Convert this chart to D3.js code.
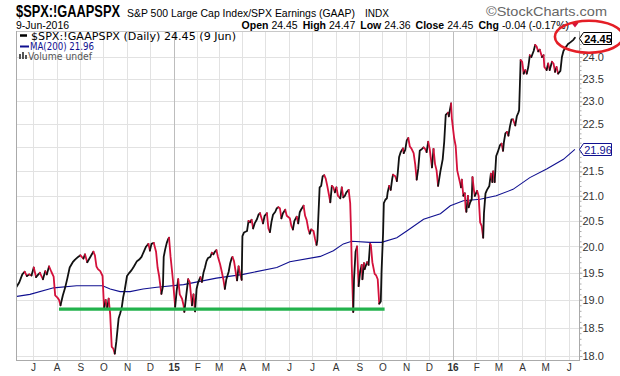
<!DOCTYPE html>
<html>
<head>
<meta charset="utf-8">
<script src="https://cdnjs.cloudflare.com/ajax/libs/d3/7.8.5/d3.min.js"></script>
<style>
  body { margin: 0; background: #fff; }
  svg { display: block; }
</style>
</head>
<body>
<div id="chart"></div>
<script>
// daily closes (turning points)
const priceSeries = [
  ["2014-06-09",19.23],["2014-06-13",19.32],["2014-06-17",19.47],["2014-06-20",19.52],["2014-06-23",19.44],["2014-06-26",19.47],["2014-06-29",19.45],
  ["2014-07-02",19.6],["2014-07-05",19.42],["2014-07-08",19.47],["2014-07-10",19.5],["2014-07-14",19.38],["2014-07-17",19.53],["2014-07-19",19.47],["2014-07-22",19.62],["2014-07-25",19.52],["2014-07-28",19.43],["2014-07-30",19.08],
  ["2014-08-02",19.04],["2014-08-04",19.0],["2014-08-06",18.9],["2014-08-09",19.08],["2014-08-12",19.22],["2014-08-15",19.4],["2014-08-18",19.6],["2014-08-22",19.7],["2014-08-25",19.75],["2014-08-29",19.8],
  ["2014-09-01",19.83],["2014-09-05",19.77],["2014-09-07",19.85],["2014-09-10",19.7],["2014-09-14",19.8],["2014-09-16",19.85],["2014-09-18",19.9],["2014-09-20",19.83],["2014-09-22",19.62],["2014-09-24",19.57],["2014-09-27",19.53],["2014-09-30",19.44],
  ["2014-10-02",18.83],["2014-10-04",19.0],["2014-10-06",18.83],["2014-10-08",19.02],["2014-10-10",18.73],["2014-10-12",18.16],["2014-10-14",18.13],["2014-10-16",18.04],["2014-10-18",18.25],["2014-10-21",18.66],["2014-10-23",18.75],["2014-10-25",18.85],["2014-10-27",19.05],["2014-10-29",19.18],
  ["2014-11-01",19.44],["2014-11-04",19.5],["2014-11-07",19.55],["2014-11-10",19.62],["2014-11-14",19.72],["2014-11-17",19.75],["2014-11-20",19.8],["2014-11-22",19.87],["2014-11-26",20.0],["2014-11-29",20.05],
  ["2014-12-01",19.92],["2014-12-03",20.05],["2014-12-06",20.07],["2014-12-09",19.9],["2014-12-11",19.6],["2014-12-13",19.44],["2014-12-16",19.11],["2014-12-18",19.25],["2014-12-19",19.8],["2014-12-21",19.95],["2014-12-23",20.07],["2014-12-25",20.15],["2014-12-26",20.17],["2014-12-28",19.8],["2014-12-31",19.38],
  ["2015-01-03",18.87],["2015-01-05",19.17],["2015-01-07",19.38],["2015-01-09",19.1],["2015-01-12",19.02],["2015-01-14",18.9],["2015-01-15",18.78],["2015-01-17",19.02],["2015-01-20",19.38],["2015-01-22",19.33],["2015-01-25",18.9],["2015-01-27",19.1],["2015-01-29",18.79],["2015-01-31",19.2],
  ["2015-02-02",19.32],["2015-02-05",19.42],["2015-02-07",19.33],["2015-02-09",19.5],["2015-02-11",19.6],["2015-02-13",19.72],["2015-02-15",19.78],["2015-02-18",19.8],["2015-02-20",19.88],["2015-02-22",19.85],["2015-02-24",19.9],["2015-02-26",19.93],["2015-02-28",19.8],
  ["2015-03-03",19.65],["2015-03-05",19.52],["2015-03-07",19.38],["2015-03-09",19.2],["2015-03-11",19.38],["2015-03-14",19.52],["2015-03-16",19.68],["2015-03-18",19.78],["2015-03-19",19.8],["2015-03-21",19.72],["2015-03-24",19.44],["2015-03-25",19.36],["2015-03-27",19.62],["2015-03-29",19.48],["2015-03-31",19.37],
  ["2015-04-01",20.2],["2015-04-03",20.27],["2015-04-07",20.3],["2015-04-09",20.5],["2015-04-11",20.47],["2015-04-13",20.52],["2015-04-15",20.35],["2015-04-17",20.45],["2015-04-20",20.53],["2015-04-22",20.62],["2015-04-24",20.65],["2015-04-26",20.55],["2015-04-28",20.45],["2015-04-30",20.6],
  ["2015-05-03",20.65],["2015-05-05",20.35],["2015-05-07",20.28],["2015-05-09",20.48],["2015-05-11",20.62],["2015-05-14",20.68],["2015-05-16",20.75],["2015-05-18",20.77],["2015-05-20",20.75],["2015-05-22",20.55],["2015-05-24",20.65],["2015-05-27",20.72],["2015-05-29",20.6],
  ["2015-06-02",20.55],["2015-06-04",20.4],["2015-06-06",20.33],["2015-06-08",20.5],["2015-06-11",20.58],["2015-06-13",20.45],["2015-06-15",20.67],["2015-06-17",20.73],["2015-06-20",20.8],["2015-06-22",20.6],["2015-06-24",20.52],["2015-06-26",20.35],["2015-06-28",20.25],["2015-06-30",20.33],
  ["2015-07-03",20.3],["2015-07-05",20.15],["2015-07-07",20.03],["2015-07-08",20.12],["2015-07-11",21.17],["2015-07-13",21.2],["2015-07-15",21.4],["2015-07-17",21.42],["2015-07-19",21.35],["2015-07-21",21.2],["2015-07-25",20.87],["2015-07-27",21.2],["2015-07-29",21.17],["2015-07-31",21.07],
  ["2015-08-02",21.17],["2015-08-04",21.0],["2015-08-07",20.95],["2015-08-09",21.17],["2015-08-11",20.97],["2015-08-13",21.0],["2015-08-15",21.07],["2015-08-18",21.12],["2015-08-20",20.85],["2015-08-21",20.35],["2015-08-22",19.65],["2015-08-24",18.78],["2015-08-25",19.38],["2015-08-27",19.9],["2015-08-29",20.0],["2015-08-31",19.25],
  ["2015-09-02",19.52],["2015-09-04",19.65],["2015-09-05",19.38],["2015-09-07",19.68],["2015-09-08",19.57],["2015-09-11",19.7],["2015-09-13",19.65],["2015-09-15",20.05],["2015-09-16",20.03],["2015-09-18",19.7],["2015-09-21",19.48],["2015-09-23",19.45],["2015-09-25",19.38],["2015-09-27",18.93],["2015-09-29",18.97],["2015-09-30",19.52],
  ["2015-10-02",20.25],["2015-10-03",20.85],["2015-10-05",20.92],["2015-10-07",20.95],["2015-10-08",21.07],["2015-10-10",21.2],["2015-10-12",21.12],["2015-10-14",21.35],["2015-10-15",21.43],["2015-10-18",21.4],["2015-10-20",21.3],["2015-10-21",21.43],["2015-10-23",21.8],["2015-10-25",21.9],["2015-10-28",21.98],["2015-10-29",21.88],["2015-10-31",21.95],
  ["2015-11-02",22.15],["2015-11-04",22.2],["2015-11-06",22.02],["2015-11-08",21.98],["2015-11-11",21.88],["2015-11-13",21.65],["2015-11-15",21.33],["2015-11-17",21.55],["2015-11-19",21.93],["2015-11-22",21.97],["2015-11-24",22.0],["2015-11-26",21.97],["2015-11-28",21.9],["2015-11-30",22.12],
  ["2015-12-02",21.97],["2015-12-05",21.58],["2015-12-07",21.97],["2015-12-09",21.65],["2015-12-11",21.52],["2015-12-13",21.2],["2015-12-16",21.5],["2015-12-19",21.75],["2015-12-21",22.12],["2015-12-23",22.7],["2015-12-26",22.75],["2015-12-27",22.67],["2015-12-30",22.95],["2015-12-31",22.62],
  ["2016-01-03",22.2],["2016-01-05",22.03],["2016-01-07",21.52],["2016-01-09",21.38],["2016-01-12",21.17],["2016-01-13",21.33],["2016-01-15",21.0],["2016-01-17",21.05],["2016-01-18",20.75],["2016-01-19",20.68],["2016-01-21",21.0],["2016-01-22",20.77],["2016-01-24",20.87],["2016-01-26",20.93],["2016-01-27",21.38],["2016-01-29",21.1],["2016-01-30",21.0],
  ["2016-02-02",21.1],["2016-02-04",21.0],["2016-02-06",20.47],["2016-02-08",20.4],["2016-02-10",20.17],["2016-02-11",20.65],["2016-02-13",21.05],["2016-02-15",21.12],["2016-02-18",21.2],["2016-02-20",21.45],["2016-02-22",21.28],["2016-02-23",21.5],["2016-02-25",21.28],["2016-02-27",21.82],["2016-02-29",21.9],
  ["2016-03-03",22.05],["2016-03-05",22.08],["2016-03-07",21.93],["2016-03-08",22.1],["2016-03-10",22.3],["2016-03-12",22.33],["2016-03-14",22.25],["2016-03-16",22.45],["2016-03-18",22.6],["2016-03-20",22.6],["2016-03-23",22.47],["2016-03-25",22.67],["2016-03-27",22.75],["2016-03-28",22.8],["2016-03-30",23.93],
  ["2016-04-01",23.89],["2016-04-03",23.62],["2016-04-05",23.7],["2016-04-07",23.62],["2016-04-09",23.77],["2016-04-11",24.04],["2016-04-13",24.0],["2016-04-16",24.14],["2016-04-18",24.28],["2016-04-20",24.24],["2016-04-22",24.13],["2016-04-24",24.17],["2016-04-27",24.0],["2016-04-29",24.04],["2016-04-30",23.77],
  ["2016-05-03",23.7],["2016-05-05",23.85],["2016-05-07",23.7],["2016-05-10",23.89],["2016-05-12",23.85],["2016-05-14",23.66],["2016-05-16",23.77],["2016-05-18",23.62],["2016-05-21",23.68],["2016-05-23",24.0],["2016-05-25",24.14],["2016-05-27",24.2],["2016-05-31",24.3],
  ["2016-06-03",24.34],["2016-06-07",24.4],["2016-06-09",24.45]
];

// 200-day moving average
const maSeries = [
  ["2014-06-09",19.06],["2014-06-27",19.1],["2014-07-28",19.22],["2014-08-27",19.26],["2014-09-30",19.26],["2014-10-10",19.2],["2014-10-23",19.15],["2014-11-05",19.15],["2014-11-22",19.2],["2014-12-10",19.23],
  ["2015-01-14",19.28],["2015-02-26",19.4],["2015-04-02",19.47],["2015-05-16",19.6],["2015-06-02",19.71],["2015-07-12",19.81],["2015-07-29",19.92],["2015-08-11",20.05],["2015-08-22",20.1],["2015-09-15",20.08],["2015-09-30",20.08],["2015-10-20",20.17],["2015-11-02",20.3],["2015-11-24",20.53],["2015-12-16",20.64],["2015-12-29",20.8],
  ["2016-01-15",20.9],["2016-02-06",20.93],["2016-02-27",21.0],["2016-03-20",21.13],["2016-04-11",21.37],["2016-05-03",21.55],["2016-05-25",21.75],["2016-06-09",21.96]
];

const yTicks = [18.0, 18.5, 19.0, 19.5, 20.0, 20.5, 21.0, 21.5, 22.0, 22.5, 23.0, 23.5, 24.0];
const support = { from: "2014-08-04", to: "2015-10-04", level: 18.83 };
const lastClose = 24.45, lastMA = 21.96;
const quoteLabels = ["Open", "High", "Low", "Close", "Chg"];
const quoteValues = ["24.45", "24.47", "24.36", "24.45", "-0.04 (-0.17%)"];

const W = 620, H = 376;
const plot = { left: 16, right: 579, top: 31, bottom: 360 };
const SANS = "'Liberation Sans', Arial, Helvetica, sans-serif";
const LEG = "'DejaVu Sans', Verdana, sans-serif";

const parse = d3.timeParse("%Y-%m-%d");
const price = priceSeries.map(([d, v]) => ({ date: parse(d), value: v }));
const ma = maSeries.map(([d, v]) => ({ date: parse(d), value: v }));

const svg = d3.select("#chart").append("svg")
  .attr("width", W).attr("height", H)
  .style("font-family", SANS);

// month anchors: Jul 2014 and Jun 2016 gridlines
const x = d3.scaleTime()
  .domain([new Date(2014, 6, 1), new Date(2016, 5, 1)])
  .range([33, 568.8]);

const y = d3.scaleLog()
  .domain([18, 24])
  .range([356, 57]);

// ---- header
svg.append("text")
  .attr("x", 16).attr("y", 17)
  .attr("font-family", "'Liberation Sans Narrow', 'Arial Narrow', " + SANS)
  .attr("font-weight", "bold").attr("font-size", 17)
  .attr("textLength", 104).attr("lengthAdjust", "spacingAndGlyphs")
  .text("$SPX:!GAAPSPX");

svg.append("text")
  .attr("x", 127).attr("y", 16.5).attr("font-size", 11)
  .attr("textLength", 228).attr("lengthAdjust", "spacingAndGlyphs")
  .text("S&P 500 Large Cap Index/SPX Earnings (GAAP)");

svg.append("text")
  .attr("x", 365).attr("y", 16.5).attr("font-size", 10)
  .text("INDX");

svg.append("text")
  .attr("x", 486).attr("y", 15.5).attr("font-size", 13).attr("fill", "#666")
  .attr("textLength", 121).attr("lengthAdjust", "spacingAndGlyphs")
  .text("\u00A9StockCharts.com");

svg.append("text")
  .attr("x", 16).attr("y", 28.5).attr("font-size", 10.5)
  .text("9-Jun-2016");

const quote = svg.append("text")
  .attr("x", 569).attr("y", 28.5).attr("font-size", 10.5)
  .attr("text-anchor", "end");
quoteLabels.forEach((lab, i) => {
  quote.append("tspan").attr("font-weight", "bold").attr("dx", i ? 5 : 0).text(lab);
  quote.append("tspan").attr("dx", 3).text(quoteValues[i]);
});

svg.append("path")
  .attr("d", "M571.5,23 L578.5,23 L575,27.5 Z")
  .attr("fill", "#d4113b");

// ---- grid
const grid = svg.append("g");
const months = d3.timeMonth.range(new Date(2014, 6, 1), new Date(2016, 6, 1));

grid.selectAll(".hg").data(yTicks).join("line")
  .attr("x1", plot.left).attr("x2", plot.right)
  .attr("y1", d => Math.round(y(d)) + 0.5).attr("y2", d => Math.round(y(d)) + 0.5)
  .attr("stroke", "#e2e2e2");

grid.selectAll(".vg").data(months).join("line")
  .attr("x1", d => Math.round(x(d)) + 0.5).attr("x2", d => Math.round(x(d)) + 0.5)
  .attr("y1", plot.top).attr("y2", plot.bottom)
  .attr("stroke", d => d.getMonth() === 0 ? "#bdbdbd" : "#e2e2e2");

// frame
svg.append("path")
  .attr("d", `M${plot.right + 0.5},${plot.top + 0.5}H${plot.left + 0.5}V${plot.bottom + 0.5}H${plot.right + 0.5}`)
  .attr("fill", "none").attr("stroke", "#c8c8c8");
svg.append("line")
  .attr("x1", plot.left + 0.5).attr("x2", plot.left + 0.5)
  .attr("y1", plot.top).attr("y2", plot.bottom + 1)
  .attr("stroke", "#aaa");
svg.append("line")
  .attr("x1", plot.left).attr("x2", plot.right)
  .attr("y1", plot.bottom + 0.5).attr("y2", plot.bottom + 0.5)
  .attr("stroke", "#aaa");

// ---- right axis
const minor = d3.range(180, 246).map(d => d / 10);
const yAxisMinor = svg.append("g")
  .attr("transform", `translate(${plot.right + 0.5},0)`)
  .call(d3.axisRight(y).tickValues(minor).tickSize(2).tickFormat(""));
const yAxis = svg.append("g")
  .attr("transform", `translate(${plot.right + 0.5},0)`)
  .call(d3.axisRight(y).tickValues(yTicks).tickSize(3).tickPadding(0).tickFormat(d3.format(".1f")));
[yAxisMinor, yAxis].forEach(a => {
  a.select(".domain").attr("stroke", "#aaa").attr("d", `M0,${plot.top}V${plot.bottom + 1}`);
  a.selectAll("line").attr("stroke", "#aaa");
});
yAxis.selectAll("text")
  .attr("x", 3).attr("font-family", SANS).attr("font-size", 11).attr("fill", "#333");

// ---- bottom axis (month initials, two-digit year on January)
const xAxis = svg.append("g")
  .attr("transform", `translate(0,${plot.bottom})`)
  .call(d3.axisBottom(x).tickValues(months).tickSize(0).tickPadding(4)
    .tickFormat(d => d.getMonth() === 0 ? d3.timeFormat("%y")(d) : d3.timeFormat("%b")(d)[0]));
xAxis.select(".domain").remove();
xAxis.selectAll("text")
  .attr("font-family", SANS).attr("font-size", 10).attr("fill", "#333")
  .attr("font-weight", d => d.getMonth() === 0 ? "bold" : "normal");

// ---- series
svg.append("clipPath").attr("id", "clip").append("rect")
  .attr("x", plot.left + 1).attr("y", plot.top + 1)
  .attr("width", plot.right - plot.left - 1).attr("height", plot.bottom - plot.top - 1);
const series = svg.append("g").attr("clip-path", "url(#clip)");

const line = d3.line().x(d => x(d.date)).y(d => y(d.value));

series.append("path")
  .datum(ma)
  .attr("fill", "none").attr("stroke", "#101090").attr("stroke-width", 1.1)
  .attr("d", line);

// split the close line into runs of up (black) and down (red) moves
const runs = [];
d3.pairs(price).forEach(([a, b]) => {
  const up = b.value >= a.value;
  const last = runs[runs.length - 1];
  if (last && last.up === up) last.pts.push(b);
  else runs.push({ up, pts: [a, b] });
});
series.selectAll(".run").data(runs).join("path")
  .attr("fill", "none")
  .attr("stroke", d => d.up ? "#111" : "#d4113b")
  .attr("stroke-width", 1.8)
  .attr("stroke-linejoin", "round").attr("stroke-linecap", "round")
  .attr("d", d => line(d.pts));

// support line
svg.append("line")
  .attr("x1", x(parse(support.from))).attr("x2", x(parse(support.to)))
  .attr("y1", y(support.level)).attr("y2", y(support.level))
  .attr("stroke", "#22b24c").attr("stroke-width", 3.4);

// ---- legend
const leg = svg.append("g").style("font-family", LEG).attr("font-size", 10);
leg.append("line").attr("x1", 20).attr("x2", 27).attr("y1", 35.5).attr("y2", 35.5)
  .attr("stroke", "#000").attr("stroke-width", 2.5);
leg.append("text").attr("x", 31).attr("y", 39.5)
  .attr("textLength", 205).attr("lengthAdjust", "spacingAndGlyphs")
  .text(`$SPX:!GAAPSPX (Daily) ${lastClose.toFixed(2)} (9 Jun)`);
leg.append("line").attr("x1", 20).attr("x2", 29).attr("y1", 46.5).attr("y2", 46.5)
  .attr("stroke", "#101090").attr("stroke-width", 2);
leg.append("text").attr("x", 30).attr("y", 50).attr("fill", "#101090")
  .attr("textLength", 64).attr("lengthAdjust", "spacingAndGlyphs")
  .text(`MA(200) ${lastMA.toFixed(2)}`);
const bars = [5, 7, 4];
leg.selectAll(".vb").data(bars).join("rect")
  .attr("x", (d, i) => 19 + i * 3).attr("y", d => 59 - d)
  .attr("width", 2).attr("height", d => d).attr("fill", "#555");
leg.append("text").attr("x", 28).attr("y", 59.5).attr("fill", "#555")
  .attr("textLength", 64).attr("lengthAdjust", "spacingAndGlyphs")
  .text("Volume undef");

// ---- value tags on the right axis
function tag(value, color, bold) {
  const cy = Math.round(y(value)) + 0.5;
  const x0 = plot.right + 0.5;
  svg.append("path")
    .attr("d", `M${x0},${cy} L${x0 + 4},${cy - 6} H${x0 + 32} V${cy + 6} H${x0 + 4} Z`)
    .attr("fill", "#fff").attr("stroke", color).attr("stroke-width", 1);
  svg.append("text")
    .attr("x", x0 + 18.5).attr("y", cy + 4)
    .attr("text-anchor", "middle").attr("font-size", 11)
    .attr("font-weight", bold ? "bold" : "normal").attr("fill", color)
    .text(value.toFixed(2));
}
tag(lastMA, "#101090", false);
tag(lastClose, "#000", true);

// ---- red annotation ring around the last value
const lastPt = price[price.length - 1];
svg.append("ellipse")
  .attr("cx", x(lastPt.date) + 14).attr("cy", y(lastPt.value) - 1)
  .attr("rx", 34).attr("ry", 16)
  .attr("fill", "none").attr("stroke", "#e41e26").attr("stroke-width", 2.6);
</script>
</body>
</html>
